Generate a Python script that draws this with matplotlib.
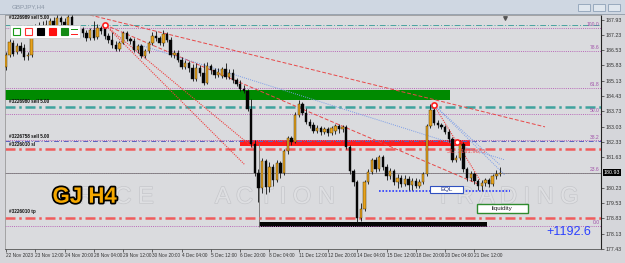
import numpy as np
import matplotlib
matplotlib.use('Agg')
import matplotlib.pyplot as plt
from matplotlib.patches import Rectangle
import matplotlib.patheffects as pe

plt.rcParams['font.family'] = ['Liberation Sans', 'DejaVu Sans']

# ---------------- data (GBPJPY H4) ----------------
opens = [185.77,186.31,186.85,186.45,186.70,186.65,186.25,186.30,187.55,187.30,
         187.60,187.40,187.70,187.85,187.65,188.00,187.80,187.70,188.05,187.60,
         187.45,187.50,187.30,187.10,187.45,187.15,187.55,187.55,187.20,187.00,
         186.75,186.60,186.85,187.30,187.05,186.95,186.55,186.70,186.25,186.50,
         186.85,187.20,187.10,186.85,187.25,187.00,186.30,186.40,186.10,185.75,
         185.95,185.70,185.20,185.70,185.50,185.05,185.80,185.60,185.40,185.35,
         185.65,185.30,185.50,185.15,185.00,184.75,184.65,183.85,182.25,180.90,
         180.20,181.45,180.25,181.20,180.60,181.35,180.90,181.90,182.50,182.35,
         183.55,184.05,183.65,183.25,183.10,182.85,182.95,182.80,182.90,182.75,
         182.85,183.05,182.90,183.00,182.10,181.00,180.50,178.85,179.25,180.50,
         180.95,181.50,181.10,181.65,181.20,180.75,181.00,180.50,180.70,180.40,
         180.65,180.35,180.55,180.30,180.50,180.85,183.05,183.80,183.20,183.10,
         183.00,182.80,182.45,181.50,181.60,182.25,181.10,180.70,180.85,180.55,
         180.30,180.45,180.60,180.40,180.75,180.85]
highs = [186.45,187.05,187.00,186.85,186.90,186.80,186.45,187.70,187.75,187.80,
         187.85,187.90,188.00,188.05,188.15,188.10,188.00,188.15,188.15,187.70,
         187.65,187.60,187.45,187.55,187.85,187.75,187.65,187.70,187.30,187.35,
         186.95,186.95,187.40,187.40,187.15,187.10,186.80,186.80,186.60,186.95,
         187.35,187.40,187.20,187.45,187.35,187.15,186.55,186.55,186.20,186.10,
         186.05,185.90,185.95,185.85,185.95,186.00,185.90,185.70,185.70,185.75,
         185.95,185.65,185.65,185.25,185.15,184.95,184.75,184.30,182.40,181.10,
         181.60,181.55,181.40,181.30,181.50,181.45,182.00,182.60,182.60,183.70,
         184.25,184.15,183.90,183.40,183.25,183.10,183.05,183.00,183.00,183.05,
         183.15,183.15,183.10,183.10,182.20,181.10,180.60,179.55,180.60,181.10,
         181.60,181.65,181.75,181.75,181.30,181.15,181.10,180.85,180.80,180.80,
         180.75,180.70,180.70,180.65,180.95,183.15,184.05,184.05,183.35,183.20,
         183.10,182.90,182.55,181.75,182.40,182.35,181.20,181.00,180.95,180.65,
         180.60,180.70,180.70,180.85,181.05,181.20]
lows = [185.60,186.20,186.25,186.35,186.40,186.10,186.10,186.20,187.15,187.20,
        187.30,187.30,187.55,187.50,187.55,187.65,187.55,187.60,187.50,187.30,
        187.35,187.15,186.95,187.00,187.00,187.05,187.25,187.05,186.85,186.65,
        186.50,186.50,186.80,186.95,186.80,186.45,186.40,186.15,186.15,186.40,
        186.75,186.95,186.75,186.70,186.90,186.20,186.15,186.00,185.65,185.65,
        185.55,185.10,185.10,185.35,184.95,185.00,185.45,185.25,185.30,185.25,
        185.20,185.20,185.05,184.90,184.65,184.55,183.75,182.10,180.75,179.60,
        180.00,179.95,180.05,180.30,180.50,180.70,180.80,181.80,182.20,182.30,
        183.45,183.55,183.15,182.95,182.75,182.75,182.65,182.70,182.60,182.65,
        182.70,182.75,182.80,182.00,180.85,180.30,178.60,178.70,179.15,180.40,
        180.85,180.95,181.00,181.05,180.60,180.65,180.35,180.20,180.25,180.30,
        180.15,180.15,180.20,180.20,180.40,180.75,182.95,183.10,182.95,182.90,
        182.70,182.35,181.40,181.40,181.50,180.95,180.55,180.55,180.40,180.15,
        180.10,180.30,180.25,180.30,180.65,180.75]
closes = [186.31,186.90,186.35,186.70,186.50,186.20,186.30,187.55,187.30,187.60,
          187.40,187.70,187.85,187.65,188.00,187.80,187.70,188.05,187.60,187.45,
          187.50,187.30,187.10,187.45,187.10,187.55,187.40,187.20,187.00,186.75,
          186.60,186.85,187.30,187.05,186.95,186.55,186.70,186.25,186.50,186.85,
          187.20,187.10,186.85,187.25,187.00,186.30,186.40,186.10,185.75,185.95,
          185.70,185.20,185.70,185.50,185.05,185.80,185.60,185.40,185.55,185.65,
          185.30,185.50,185.15,185.00,184.75,184.65,183.85,182.25,180.90,180.20,
          181.45,180.25,181.20,180.60,181.35,180.90,181.90,182.50,182.35,183.55,
          184.05,183.65,183.25,183.05,182.85,182.95,182.80,182.90,182.75,182.95,
          183.05,182.90,183.00,182.10,181.00,180.50,178.85,179.25,180.50,180.95,
          181.50,181.10,181.65,181.20,180.75,181.00,180.50,180.70,180.40,180.65,
          180.35,180.55,180.30,180.50,180.85,183.05,183.80,183.20,183.10,183.00,
          182.80,182.45,181.50,181.60,182.25,181.10,180.70,180.85,180.55,180.30,
          180.45,180.60,180.40,180.75,180.85,180.93]

date_labels = ["22 Nov 2023", "23 Nov 12:00", "24 Nov 20:00", "28 Nov 04:00",
               "29 Nov 12:00", "30 Nov 20:00", "4 Dec 04:00", "5 Dec 12:00",
               "6 Dec 20:00", "8 Dec 04:00", "11 Dec 12:00", "12 Dec 20:00",
               "14 Dec 04:00", "15 Dec 12:00", "18 Dec 20:00", "20 Dec 04:00",
               "21 Dec 12:00"]
date_bars = list(range(0, 129, 8))
price_ticks = [177.43, 178.13, 178.83, 179.53, 180.23, 180.93, 181.63, 182.33,
               183.03, 183.73, 184.43, 185.13, 185.83, 186.53, 187.23, 187.93]
current_price = 180.93

fib_levels = [187.55, 186.50, 184.80, 183.61, 182.40, 180.91, 178.49]
fib_labels = ["100.0", "78.6", "61.8", "50.0", "38.2", "23.6", "0.0"]

green_zone = (-0.3, 121.3, 184.26, 184.71)
red_zone = (64.0, 126.8, 182.15, 182.42)
black_zone = (69.1, 131.4, 178.44, 178.67)
teal_thin = 187.69
teal_thick = 183.94
blue_order = 182.38
red_lines = [182.01, 178.86]
eql_level = 180.09
eql_span = (102, 137.7)

red_dashed = [((22.95, 188.14), (147.3, 183.02)), ((27.0, 187.69), (129.5, 180.37))]
red_dotted = [((27.0, 187.69), (67.6, 182.06)), ((28.4, 187.46), (65.3, 181.28)),
              ((116.9, 184.03), (129.5, 180.59))]
blue_dotted = [((36.6, 186.77), (136.3, 181.51)), ((116.9, 184.03), (135.0, 181.28)),
               ((116.9, 184.03), (136.3, 180.82))]
circles_x = [27.0, 116.9, 123.2]
circles_y = [187.69, 184.03, 182.33]

order_labels = [("#3226989 sell 5.00", 187.90), ("#3226980 sell 5.00", 184.07),
                ("#3226758 sell 5.00", 182.47), ("#3226010 sl", 182.12),
                ("#3226010 tp", 179.02)]

watermark_words = [("P R I C E", 27.0), ("A C T I O N", 73.5), ("T R A D I N G", 137.0)]

# ---------------- figure ----------------
W, H = 625, 263
fig = plt.figure(figsize=(W / 100, H / 100), dpi=100)
fig.patch.set_facecolor('#d5d6da')

def fr(x, y, w, h, **kw):
    fig.patches.append(Rectangle((x / W, 1 - (y + h) / H), w / W, h / H,
                                 transform=fig.transFigure, **kw))

# window chrome
fr(0, 0, W, 14, facecolor='#cfd7e2', edgecolor='none')
fr(0, 14, W, 1, facecolor='#9aa4b0', edgecolor='none')
fig.text(12 / W, 1 - 7 / H, "GBPJPY,H4", fontsize=4.5, color='#8a96a6', va='center')
for bx in (578, 593, 608):
    fr(bx, 4, 12, 7, facecolor='#dfe6ee', edgecolor='#8fa2b8', linewidth=0.6)

ax = fig.add_axes([5 / W, 1 - 249 / H, 596 / W, 234 / H])
ax.set_facecolor('#dadbde')
ax.set_xlim(-0.27, 162.6)
ax.set_ylim(177.44, 188.14)

# watermark
for word, xc in watermark_words:
    ax.text(xc, 179.80, word, ha='center', va='center', fontsize=17, color='#dedfe2', zorder=0.5,
            path_effects=[pe.withStroke(linewidth=1.0, foreground='#c6c7cb')])

# zones
for (x0, x1, y0, y1), c in ((green_zone, '#008a00'), (red_zone, '#ff1c1c'), (black_zone, '#050505')):
    ax.add_patch(Rectangle((x0, y0), x1 - x0, y1 - y0, facecolor=c, edgecolor='none', zorder=2))
ax.vlines(black_zone[0], black_zone[2], 182.3, color='#707070', lw=0.6, zorder=2)

# horizontal lines
ax.axhline(teal_thin, color='#4aa3a0', lw=0.7, dashes=(6, 2, 1, 2), zorder=2)
ax.axhline(teal_thick, color='#3fa39e', lw=1.8, dashes=(4, 1.5, 1, 1.5), zorder=2)
ax.axhline(blue_order, color='#5a62c0', lw=0.7, dashes=(5, 2, 1, 2), zorder=2)
for lv in red_lines:
    ax.axhline(lv, color='#f05c5c', lw=1.8, dashes=(4, 1.5, 1, 1.5), zorder=2)
for lv, lb in zip(fib_levels, fib_labels):
    ax.axhline(lv, color='#b868b8', lw=0.7, ls=(0, (1, 1.2)), zorder=2)
    ax.text(0.998, lv + 0.03, lb, transform=ax.get_yaxis_transform(), ha='right', va='bottom',
            fontsize=3.6, color='#a050a8', zorder=3)
ax.axhline(current_price, color='#7c7c7c', lw=0.6, zorder=2)
ax.hlines(eql_level, eql_span[0], eql_span[1], color='#2a3cff', lw=1.2, ls=(0, (1, 1)), zorder=3)

# trend lines
for (a, b) in red_dashed:
    ax.plot([a[0], b[0]], [a[1], b[1]], color='#e84848', lw=0.7, dashes=(4, 2), zorder=2)
for (a, b) in red_dotted:
    ax.plot([a[0], b[0]], [a[1], b[1]], color='#f04040', lw=0.8, ls=(0, (1, 1)), zorder=2)
for (a, b) in blue_dotted:
    ax.plot([a[0], b[0]], [a[1], b[1]], color='#7a9ce8', lw=0.7, ls=(0, (1, 1.2)), zorder=2)

# candles
o = np.array(opens); h = np.array(highs); l = np.array(lows); c = np.array(closes)
xs = np.arange(len(o))
ax.vlines(xs, l, h, color='#111111', lw=0.6, zorder=4)
bull = c >= o
body_lo = np.minimum(o, c); body_h = np.maximum(np.abs(c - o), 0.03)
ax.bar(xs[bull], body_h[bull], bottom=body_lo[bull], width=0.65, color='#e8a21c',
       edgecolor='#3a2a00', linewidth=0.3, zorder=5)
ax.bar(xs[~bull], body_h[~bull], bottom=body_lo[~bull], width=0.65, color='#050505',
       edgecolor='#050505', linewidth=0.3, zorder=5)

ax.scatter(circles_x, circles_y, s=14, facecolor='white', edgecolor='#ff2020', linewidth=1.2, zorder=6)

# text annotations
for txt, yv in order_labels:
    ax.text(0.8, yv, txt, fontsize=3.3, color='#111111', fontweight='bold', va='bottom', zorder=6)
ax.text(120.5, 181.84, "SL: 3161.96, 5", fontsize=4.2, color='#f05050', zorder=6)
ax.text(21.5, 179.80, "GJ H4", fontsize=16, fontweight='bold', color='#f5a800', ha='center',
        va='center', zorder=7, path_effects=[pe.withStroke(linewidth=2.5, foreground='black')])
ax.text(160.0, 178.22, "+1192.6", fontsize=9, color='#2a40ff', ha='right', va='center', zorder=7)

ax.add_patch(Rectangle((115.8, 180.00), 9.1, 0.32, facecolor='white', edgecolor='#3050c0', lw=0.8, zorder=7))
ax.text(120.35, 180.16, "EQL", fontsize=4.5, color='#203080', ha='center', va='center', zorder=8)
ax.add_patch(Rectangle((128.7, 179.09), 13.9, 0.41, facecolor='white', edgecolor='#2e8b2e', lw=1.0, zorder=7))
ax.text(135.65, 179.29, "liquidity", fontsize=4.5, color='#202020', ha='center', va='center', zorder=8)

# shift marker
ax.scatter([136.3], [188.0], marker='v', s=6, color='#555555', zorder=6, clip_on=False)

# axes styling
for s in ('left', 'top'):
    ax.spines[s].set_color('#9a9a9a'); ax.spines[s].set_linewidth(0.6)
ax.spines['right'].set_color('#222222'); ax.spines['right'].set_linewidth(0.8)
ax.spines['bottom'].set_color('#555555'); ax.spines['bottom'].set_linewidth(0.6)
ax.yaxis.tick_right()
ax.set_yticks([p for p in price_ticks if p != current_price])
ax.set_yticklabels(["%.2f" % p for p in price_ticks if p != current_price])
ax.tick_params(axis='y', labelsize=3.8, colors='#333333', length=2, width=0.5, pad=1.5)
ax.text(1.004, current_price, "%.2f" % current_price, transform=ax.get_yaxis_transform(),
        fontsize=3.8, color='white', va='center', ha='left',
        bbox=dict(boxstyle='square,pad=0.15', facecolor='black', edgecolor='none'), clip_on=False)
ax.set_xticks(date_bars)
ax.set_xticklabels(date_labels, ha='left')
ax.tick_params(axis='x', labelsize=3.4, colors='#333333', length=2, width=0.5, pad=1)

# toolbox (top left)
fr(10, 25, 70, 13, facecolor='white', edgecolor='#c8c8c8', linewidth=0.5, zorder=10)
fr(13, 28, 7, 7, facecolor='white', edgecolor='#1a9a1a', linewidth=0.8, zorder=11)
fr(25, 28, 7, 7, facecolor='white', edgecolor='#ff3030', linewidth=0.8, zorder=11)
fr(37, 28, 7, 7, facecolor='black', edgecolor='black', linewidth=0.8, zorder=11)
fr(49, 28, 7, 7, facecolor='#ff1010', edgecolor='#ff1010', linewidth=0.8, zorder=11)
fr(61, 28, 7, 7, facecolor='#138a13', edgecolor='#138a13', linewidth=0.8, zorder=11)
fr(71, 29, 7, 1.3, facecolor='#1a9a1a', edgecolor='none', zorder=11)
fr(71, 34, 7, 1.3, facecolor='#ff2020', edgecolor='none', zorder=11)

fig.savefig('out.png', dpi=100, facecolor=fig.get_facecolor())
